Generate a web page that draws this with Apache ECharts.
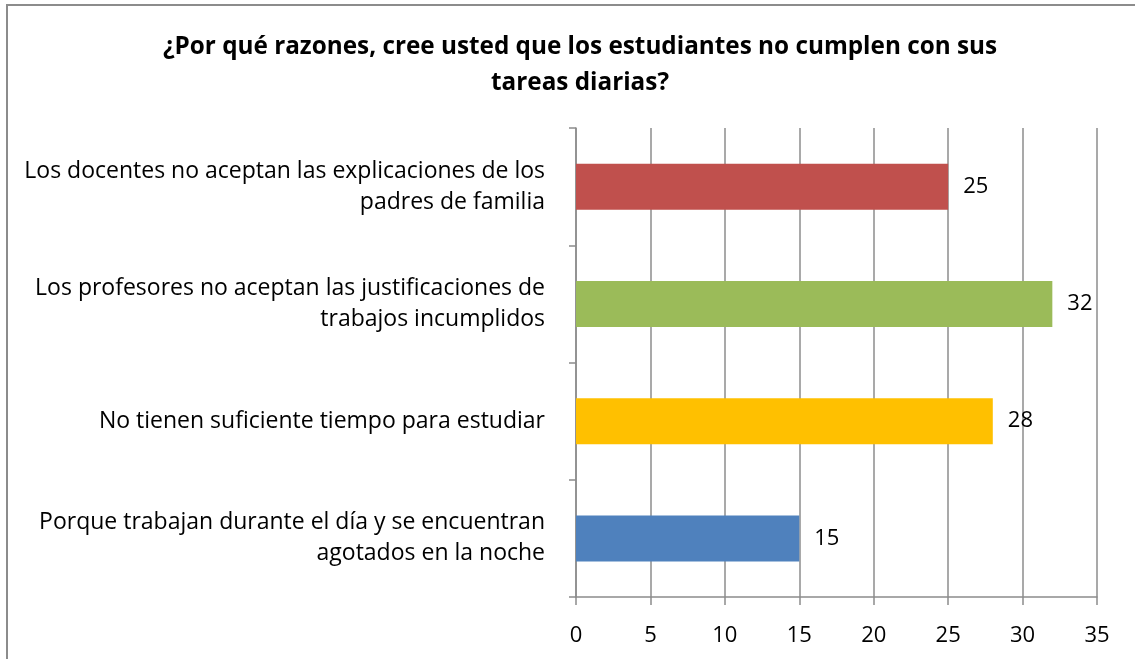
<!DOCTYPE html>
<html>
<head>
<meta charset="utf-8">
<script src="https://cdn.jsdelivr.net/npm/echarts@6/dist/echarts.min.js"></script>
<style>
  html, body { margin: 0; padding: 0; background: #fff; }
  #chart { width: 1135px; height: 659px; }
</style>
</head>
<body>
<div id="chart"></div>
<script>
// categories from bottom to top (category axis starts at the bottom)
var categories = [
    'Porque trabajan durante el día y se encuentran\nagotados en la noche',
    'No tienen suficiente tiempo para estudiar',
    'Los profesores no aceptan las justificaciones de\ntrabajos incumplidos',
    'Los docentes no aceptan las explicaciones de los\npadres de familia'
];
var values = [15, 28, 32, 25];
var xTicks = [0, 5, 10, 15, 20, 25, 30, 35];

var barColors = ['#4F81BD', '#FFC000', '#9BBB59', '#C0504D'];
var font = '"Open Sans", sans-serif';

var myChart = echarts.init(document.getElementById('chart'));

var option = {
    animation: false,
    title: {
        text: '¿Por qué razones, cree usted que los estudiantes no cumplen con sus\ntareas diarias?',
        left: 575,
        top: 24,
        textAlign: 'center',
        textStyle: {
            fontFamily: font,
            fontSize: 24.3,
            fontWeight: 'bold',
            color: '#000',
            lineHeight: 36
        }
    },
    graphic: [{
        type: 'rect',
        shape: { x: 7, y: 5, width: 1140, height: 670 },
        style: { fill: 'none', stroke: '#8c8c8c', lineWidth: 2 },
        silent: true
    }],
    grid: {
        left: 576,
        right: 38,
        top: 128,
        bottom: 62
    },
    xAxis: {
        type: 'value',
        min: xTicks[0],
        max: xTicks[xTicks.length - 1],
        interval: 5,
        axisLine: { show: true, lineStyle: { color: '#8c8c8c', width: 1.5 } },
        axisTick: { show: true, length: 8, lineStyle: { color: '#8c8c8c', width: 1.5 } },
        splitLine: { show: true, lineStyle: { color: '#8c8c8c', width: 1.5 } },
        axisLabel: {
            margin: 28,
            fontFamily: font,
            fontSize: 22,
            color: '#000'
        }
    },
    yAxis: {
        type: 'category',
        data: categories,
        axisLine: { show: true, lineStyle: { color: '#8c8c8c', width: 1.5 } },
        axisTick: { show: true, length: 7, lineStyle: { color: '#8c8c8c', width: 1.5 } },
        axisLabel: {
            margin: 31,
            fontFamily: font,
            fontSize: 23,
            lineHeight: 31,
            color: '#000',
            align: 'right'
        }
    },
    series: [{
        type: 'bar',
        barWidth: 46,
        data: values.map(function (v, i) {
            return { value: v, itemStyle: { color: barColors[i] } };
        }),
        label: {
            show: true,
            position: 'right',
            distance: 15,
            fontFamily: font,
            fontSize: 22,
            color: '#000'
        }
    }]
};

myChart.setOption(option);
</script>
</body>
</html>
